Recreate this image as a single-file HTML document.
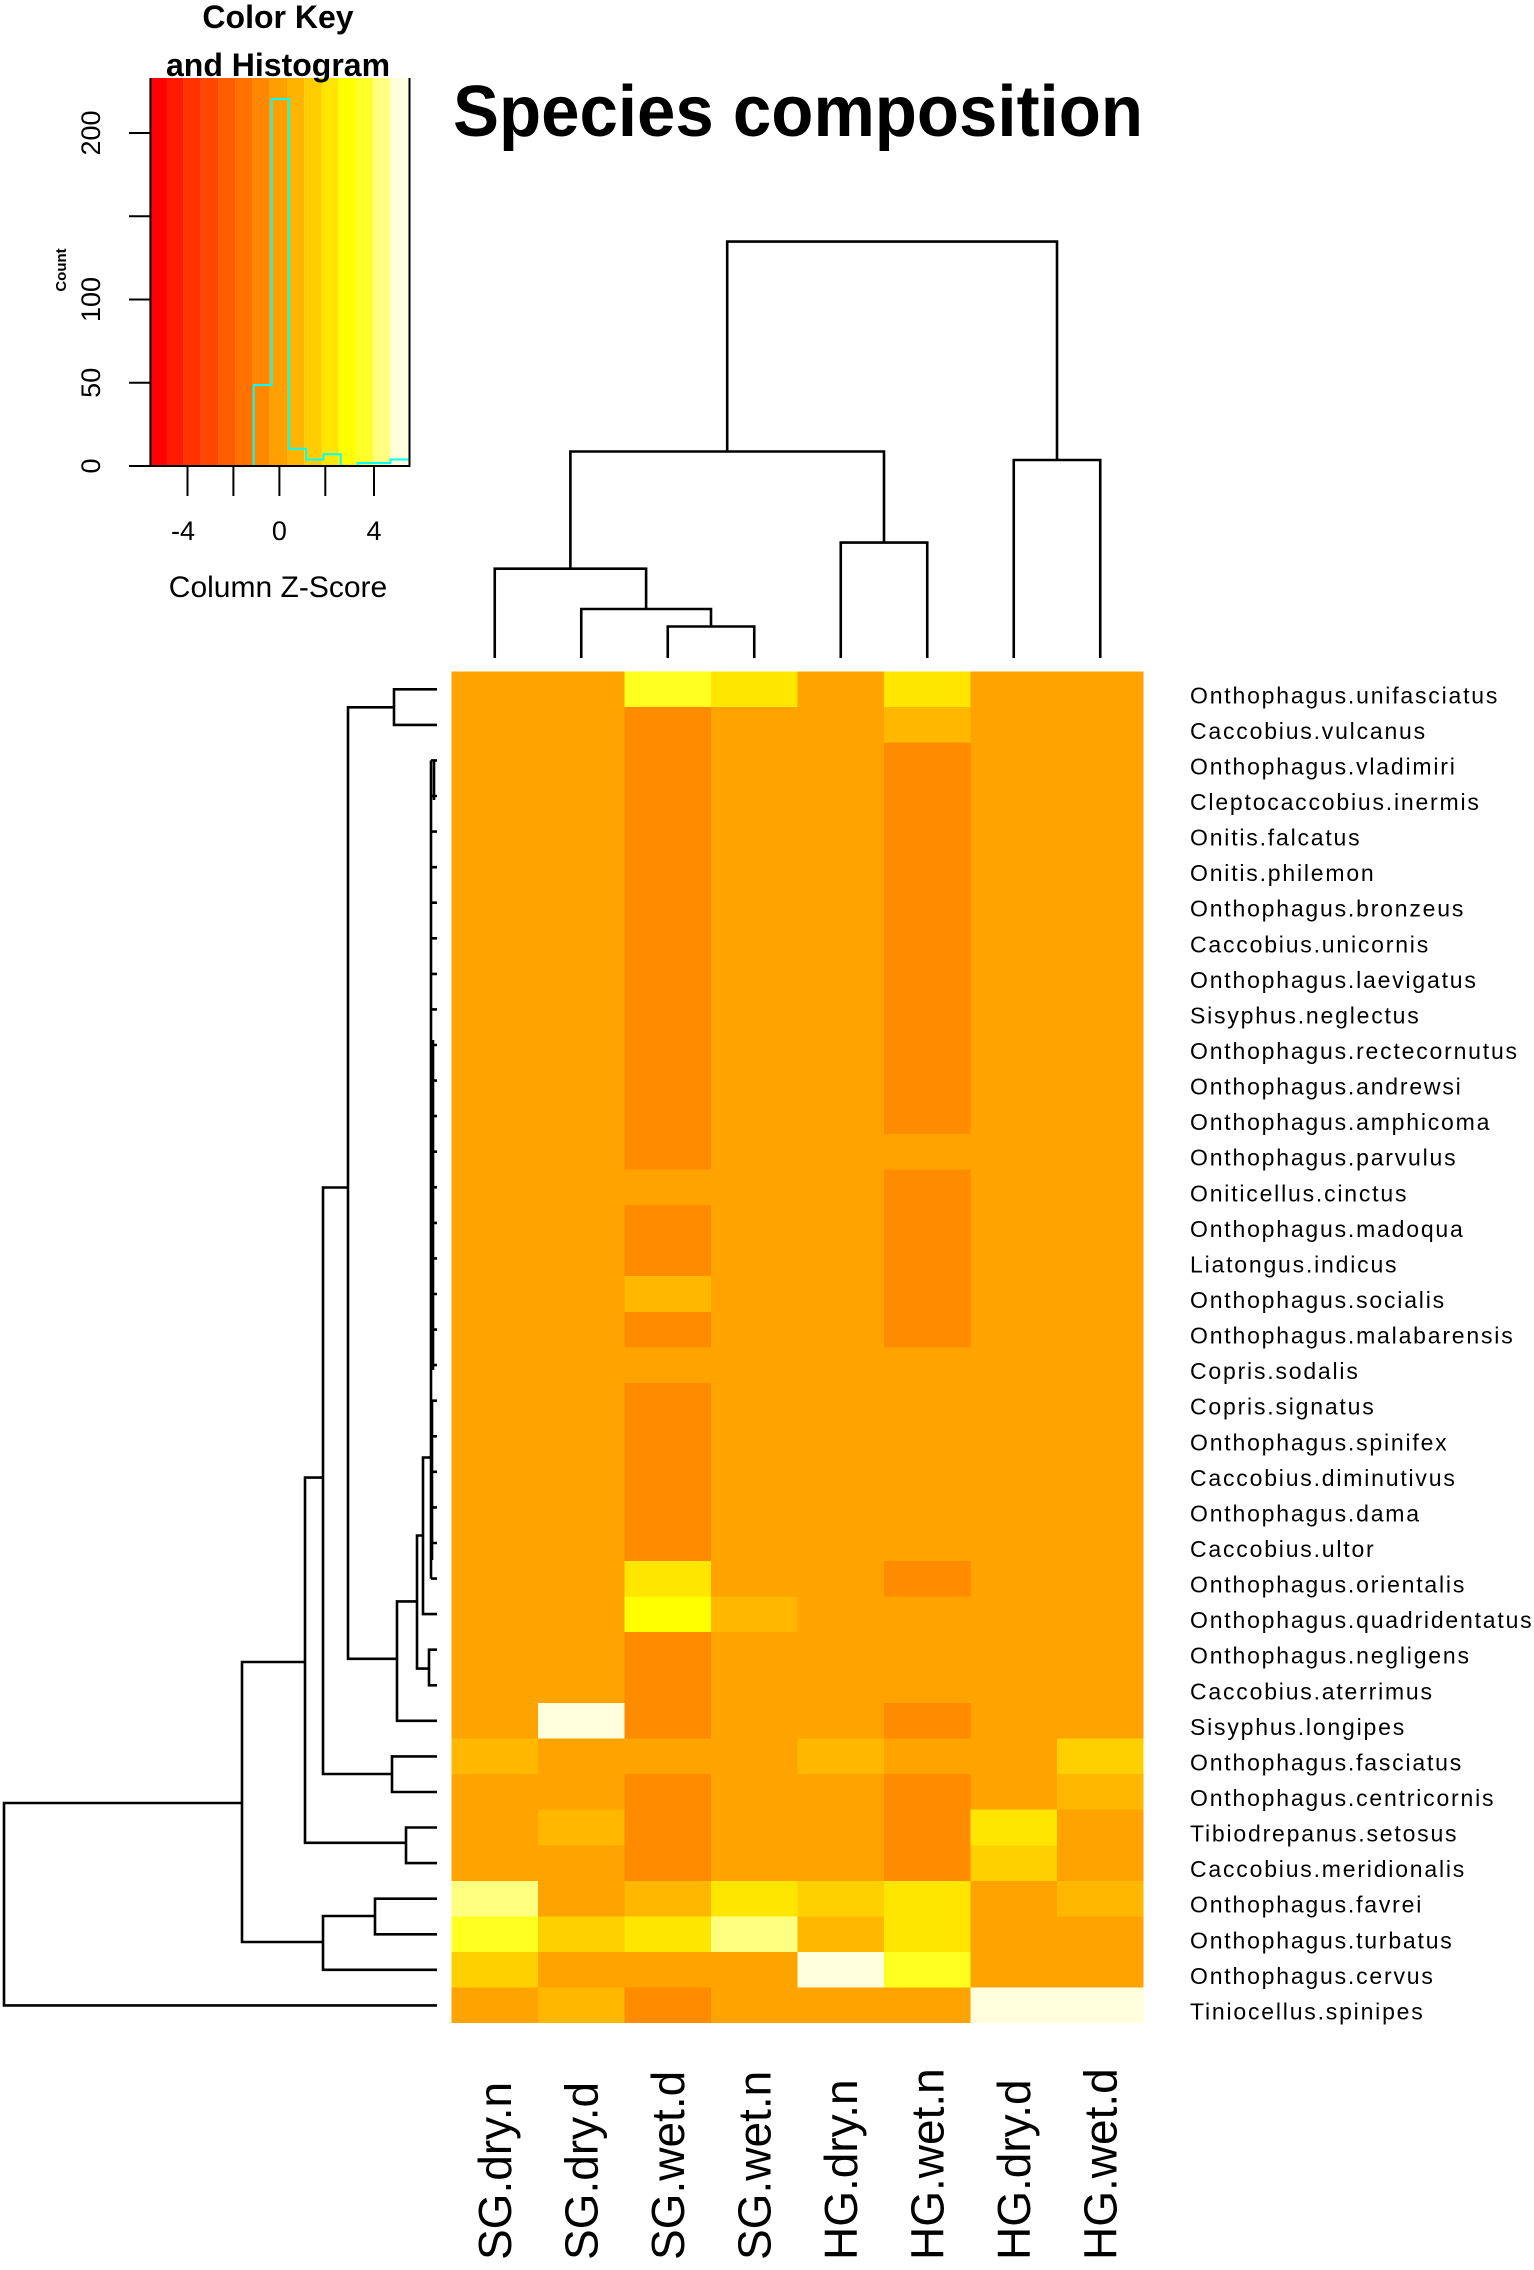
<!DOCTYPE html>
<html><head><meta charset="utf-8"><style>
html,body{margin:0;padding:0;background:#fff;}
svg{display:block;}
text{font-family:"Liberation Sans",sans-serif;fill:#000;}
.rl{font-size:23px;letter-spacing:1.8px;}
</style></head><body>
<svg width="1534" height="2270" viewBox="0 0 1534 2270" xmlns="http://www.w3.org/2000/svg">
<!-- Color key -->
<g>
<g transform="translate(0,78)">
<rect x="150.4" y="0" width="16.1" height="388" fill="#FF0000"/>
<rect x="166.5" y="0" width="17.2" height="388" fill="#FF1A00"/>
<rect x="183.7" y="0" width="17.2" height="388" fill="#FF3300"/>
<rect x="200.9" y="0" width="17.2" height="388" fill="#FF4600"/>
<rect x="218.1" y="0" width="17.3" height="388" fill="#FF5C00"/>
<rect x="235.4" y="0" width="17.2" height="388" fill="#FF7200"/>
<rect x="252.6" y="0" width="17.2" height="388" fill="#FF8800"/>
<rect x="269.8" y="0" width="17.2" height="388" fill="#FFA000"/>
<rect x="287.0" y="0" width="17.2" height="388" fill="#FFB400"/>
<rect x="304.2" y="0" width="17.3" height="388" fill="#FFCC00"/>
<rect x="321.5" y="0" width="17.2" height="388" fill="#FFE500"/>
<rect x="338.7" y="0" width="17.2" height="388" fill="#FFFF00"/>
<rect x="355.9" y="0" width="17.2" height="388" fill="#FFFF2A"/>
<rect x="373.1" y="0" width="17.3" height="388" fill="#FFFF80"/>
<rect x="390.4" y="0" width="19.1" height="388" fill="#FFFFDF"/>
</g>
<path d="M151.2 466 H253.7 V385 H271.7 V99 H288.9 V448.7 H306.2 V459.5 H323.4 V454.3 H340.6 V466 H357.8 V463 H390.4 V459.5 H409.5" fill="none" stroke="#00FFFF" stroke-width="2"/>
<path d="M150.4 78 V466 H409.5 V78" fill="none" stroke="#000" stroke-width="2"/>
<g stroke="#000" stroke-width="2">
<line x1="129" y1="466" x2="150" y2="466"/>
<line x1="129" y1="382.8" x2="150" y2="382.8"/>
<line x1="129" y1="299.5" x2="150" y2="299.5"/>
<line x1="129" y1="216.3" x2="150" y2="216.3"/>
<line x1="129" y1="133" x2="150" y2="133"/>
<line x1="187.5" y1="466" x2="187.5" y2="496"/>
<line x1="233.4" y1="466" x2="233.4" y2="496"/>
<line x1="279.4" y1="466" x2="279.4" y2="496"/>
<line x1="325.3" y1="466" x2="325.3" y2="496"/>
<line x1="374" y1="466" x2="374" y2="496"/>
</g>
<g font-size="27" text-anchor="middle">
<text transform="translate(100,466) rotate(-90)">0</text>
<text transform="translate(100,382.8) rotate(-90)">50</text>
<text transform="translate(100,299.5) rotate(-90)">100</text>
<text transform="translate(100,133) rotate(-90)">200</text>
<text x="183" y="540">-4</text>
<text x="279.4" y="540">0</text>
<text x="374" y="540">4</text>
<text x="278" y="597" font-size="30" fill="#111">Column Z-Score</text>
</g>
<text transform="translate(66,270) rotate(-90)" font-size="15" font-weight="bold" text-anchor="middle">Count</text>
<text x="278" y="28" font-size="32" font-weight="bold" text-anchor="middle">Color Key</text>
<text x="278" y="76" font-size="32" font-weight="bold" text-anchor="middle">and Histogram</text>
</g>
<!-- Title -->
<text x="453" y="136" font-size="72" font-weight="bold" textLength="690" lengthAdjust="spacingAndGlyphs">Species composition</text>
<!-- Heatmap -->
<g shape-rendering="crispEdges">
<rect x="451.5" y="671.5" width="692" height="1351.7" fill="#FFA300"/>
<rect x="624.5" y="671.5" width="86.5" height="35.6" fill="#FFFF20"/>
<rect x="624.5" y="707.1" width="86.5" height="462.4" fill="#FF8C00"/>
<rect x="624.5" y="1205.1" width="86.5" height="71.1" fill="#FF8C00"/>
<rect x="624.5" y="1276.2" width="86.5" height="35.6" fill="#FFB700"/>
<rect x="624.5" y="1311.8" width="86.5" height="35.5" fill="#FF8C00"/>
<rect x="624.5" y="1382.9" width="86.5" height="177.9" fill="#FF8C00"/>
<rect x="624.5" y="1560.8" width="86.5" height="35.5" fill="#FFE600"/>
<rect x="624.5" y="1596.3" width="86.5" height="35.6" fill="#FFFF00"/>
<rect x="624.5" y="1631.9" width="86.5" height="106.7" fill="#FF8C00"/>
<rect x="624.5" y="1774.2" width="86.5" height="106.7" fill="#FF8C00"/>
<rect x="624.5" y="1880.9" width="86.5" height="35.6" fill="#FFB700"/>
<rect x="624.5" y="1916.5" width="86.5" height="35.5" fill="#FFE600"/>
<rect x="624.5" y="1987.6" width="86.5" height="35.6" fill="#FF8C00"/>
<rect x="711" y="671.5" width="86.5" height="35.6" fill="#FFE600"/>
<rect x="711" y="1596.3" width="86.5" height="35.6" fill="#FFB700"/>
<rect x="711" y="1880.9" width="86.5" height="35.6" fill="#FFE600"/>
<rect x="711" y="1916.5" width="86.5" height="35.5" fill="#FFFF80"/>
<rect x="884" y="671.5" width="86.5" height="35.6" fill="#FFE600"/>
<rect x="884" y="707.1" width="86.5" height="35.5" fill="#FFB700"/>
<rect x="884" y="742.6" width="86.5" height="391.3" fill="#FF8C00"/>
<rect x="884" y="1169.5" width="86.5" height="177.8" fill="#FF8C00"/>
<rect x="884" y="1560.8" width="86.5" height="35.5" fill="#FF8C00"/>
<rect x="884" y="1703.0" width="86.5" height="35.6" fill="#FF8C00"/>
<rect x="884" y="1774.2" width="86.5" height="106.7" fill="#FF8C00"/>
<rect x="884" y="1880.9" width="86.5" height="71.1" fill="#FFE600"/>
<rect x="884" y="1952.0" width="86.5" height="35.6" fill="#FFFF20"/>
<rect x="451.5" y="1738.6" width="86.5" height="35.6" fill="#FFB700"/>
<rect x="451.5" y="1880.9" width="86.5" height="35.6" fill="#FFFF80"/>
<rect x="451.5" y="1916.5" width="86.5" height="35.5" fill="#FFFF20"/>
<rect x="451.5" y="1952.0" width="86.5" height="35.6" fill="#FFD000"/>
<rect x="538" y="1703.0" width="86.5" height="35.6" fill="#FFFFDD"/>
<rect x="538" y="1809.7" width="86.5" height="35.6" fill="#FFB700"/>
<rect x="538" y="1916.5" width="86.5" height="35.5" fill="#FFD000"/>
<rect x="538" y="1987.6" width="86.5" height="35.6" fill="#FFB700"/>
<rect x="797.5" y="1738.6" width="86.5" height="35.6" fill="#FFB700"/>
<rect x="797.5" y="1880.9" width="86.5" height="35.6" fill="#FFD000"/>
<rect x="797.5" y="1916.5" width="86.5" height="35.5" fill="#FFB700"/>
<rect x="797.5" y="1952.0" width="86.5" height="35.6" fill="#FFFFDD"/>
<rect x="970.5" y="1809.7" width="86.5" height="35.6" fill="#FFE600"/>
<rect x="970.5" y="1845.3" width="86.5" height="35.6" fill="#FFD000"/>
<rect x="970.5" y="1987.6" width="86.5" height="35.6" fill="#FFFFDD"/>
<rect x="1057" y="1738.6" width="86.5" height="35.6" fill="#FFD000"/>
<rect x="1057" y="1774.2" width="86.5" height="35.5" fill="#FFB700"/>
<rect x="1057" y="1880.9" width="86.5" height="35.6" fill="#FFB700"/>
<rect x="1057" y="1987.6" width="86.5" height="35.6" fill="#FFFFDD"/>
</g>
<!-- Column dendrogram -->
<g fill="none" stroke="#000" stroke-width="2.6">
<path d="M667.75 658 V626.5 H754.25 V658"/>
<path d="M581.25 658 V609 H711 V626.5"/>
<path d="M494.75 658 V568.7 H646.1 V609"/>
<path d="M840.75 658 V542.6 H927.25 V658"/>
<path d="M570.4 568.7 V451.5 H884 V542.6"/>
<path d="M1013.75 658 V460 H1100.25 V658"/>
<path d="M727.2 451.5 V241.6 H1057 V460"/>
</g>
<!-- Row dendrogram -->
<g fill="none" stroke="#000" stroke-width="2.6">
<path d="M242 1803 H4 V2005.4 H437"/>
<path d="M305 1662 H242 V1942 H323"/>
<path d="M437 1898.7 H375 V1934.3 H437"/>
<path d="M375 1916 H323 V1969.8 H437"/>
<path d="M406 1842.8 H305 V1477.6 H323"/>
<path d="M437 1827.5 H406 V1863.1 H437"/>
<path d="M348 1187.5 H323 V1774 H392"/>
<path d="M437 1756.4 H392 V1792 H437"/>
<path d="M394 707.3 H348 V1658.8 H397"/>
<path d="M437 689.3 H394 V724.9 H437"/>
<path d="M417 1601.4 H397 V1720.8 H437"/>
<path d="M423 1535.5 H417 V1668.6 H429"/>
<path d="M437 1649.7 H429 V1685.3 H437"/>
<path d="M428 1457.5 H423 V1614.1 H437"/>
<path d="M428 1457.5 H431"/>
<path d="M431 760.4 V1578.6"/>
<path d="M434 760.4 V800 M433 1040 V1370 M432 1400 V1560"/>
<path d="M431 760.4 H437 M431 796 H437 M431 831.6 H437 M431 867.2 H437 M431 902.7 H437 M431 938.3 H437 M431 973.9 H437 M431 1009.4 H437 M431 1045 H437 M431 1080.6 H437 M431 1116.1 H437 M431 1151.7 H437 M431 1187.3 H437 M431 1222.9 H437 M431 1258.4 H437 M431 1294 H437 M431 1329.6 H437 M431 1365.1 H437 M431 1400.7 H437 M431 1436.3 H437 M431 1471.8 H437 M431 1507.4 H437 M431 1543 H437 M431 1578.6 H437"/>
</g>
<!-- Row labels -->
<g class="rl" transform="translate(0,6)">
<text x="1190" y="697.3">Onthophagus.unifasciatus</text>
<text x="1190" y="732.9">Caccobius.vulcanus</text>
<text x="1190" y="768.4">Onthophagus.vladimiri</text>
<text x="1190" y="804">Cleptocaccobius.inermis</text>
<text x="1190" y="839.6">Onitis.falcatus</text>
<text x="1190" y="875.2">Onitis.philemon</text>
<text x="1190" y="910.7">Onthophagus.bronzeus</text>
<text x="1190" y="946.3">Caccobius.unicornis</text>
<text x="1190" y="981.9">Onthophagus.laevigatus</text>
<text x="1190" y="1017.4">Sisyphus.neglectus</text>
<text x="1190" y="1053">Onthophagus.rectecornutus</text>
<text x="1190" y="1088.6">Onthophagus.andrewsi</text>
<text x="1190" y="1124.1">Onthophagus.amphicoma</text>
<text x="1190" y="1159.7">Onthophagus.parvulus</text>
<text x="1190" y="1195.3">Oniticellus.cinctus</text>
<text x="1190" y="1230.9">Onthophagus.madoqua</text>
<text x="1190" y="1266.4">Liatongus.indicus</text>
<text x="1190" y="1302">Onthophagus.socialis</text>
<text x="1190" y="1337.6">Onthophagus.malabarensis</text>
<text x="1190" y="1373.1">Copris.sodalis</text>
<text x="1190" y="1408.7">Copris.signatus</text>
<text x="1190" y="1444.3">Onthophagus.spinifex</text>
<text x="1190" y="1479.8">Caccobius.diminutivus</text>
<text x="1190" y="1515.4">Onthophagus.dama</text>
<text x="1190" y="1551">Caccobius.ultor</text>
<text x="1190" y="1586.6">Onthophagus.orientalis</text>
<text x="1190" y="1622.1">Onthophagus.quadridentatus</text>
<text x="1190" y="1657.7">Onthophagus.negligens</text>
<text x="1190" y="1693.3">Caccobius.aterrimus</text>
<text x="1190" y="1728.8">Sisyphus.longipes</text>
<text x="1190" y="1764.4">Onthophagus.fasciatus</text>
<text x="1190" y="1800">Onthophagus.centricornis</text>
<text x="1190" y="1835.5">Tibiodrepanus.setosus</text>
<text x="1190" y="1871.1">Caccobius.meridionalis</text>
<text x="1190" y="1906.7">Onthophagus.favrei</text>
<text x="1190" y="1942.3">Onthophagus.turbatus</text>
<text x="1190" y="1977.8">Onthophagus.cervus</text>
<text x="1190" y="2013.4">Tiniocellus.spinipes</text>
</g>
<!-- Column labels -->
<g font-size="46">
<text transform="translate(511,2260) rotate(-90)">SG.dry.n</text>
<text transform="translate(597.5,2260) rotate(-90)">SG.dry.d</text>
<text transform="translate(684,2260) rotate(-90)">SG.wet.d</text>
<text transform="translate(770.5,2260) rotate(-90)">SG.wet.n</text>
<text transform="translate(857,2260) rotate(-90)">HG.dry.n</text>
<text transform="translate(943.5,2260) rotate(-90)">HG.wet.n</text>
<text transform="translate(1030,2260) rotate(-90)">HG.dry.d</text>
<text transform="translate(1116.5,2260) rotate(-90)">HG.wet.d</text>
</g>
</svg>
</body></html>
